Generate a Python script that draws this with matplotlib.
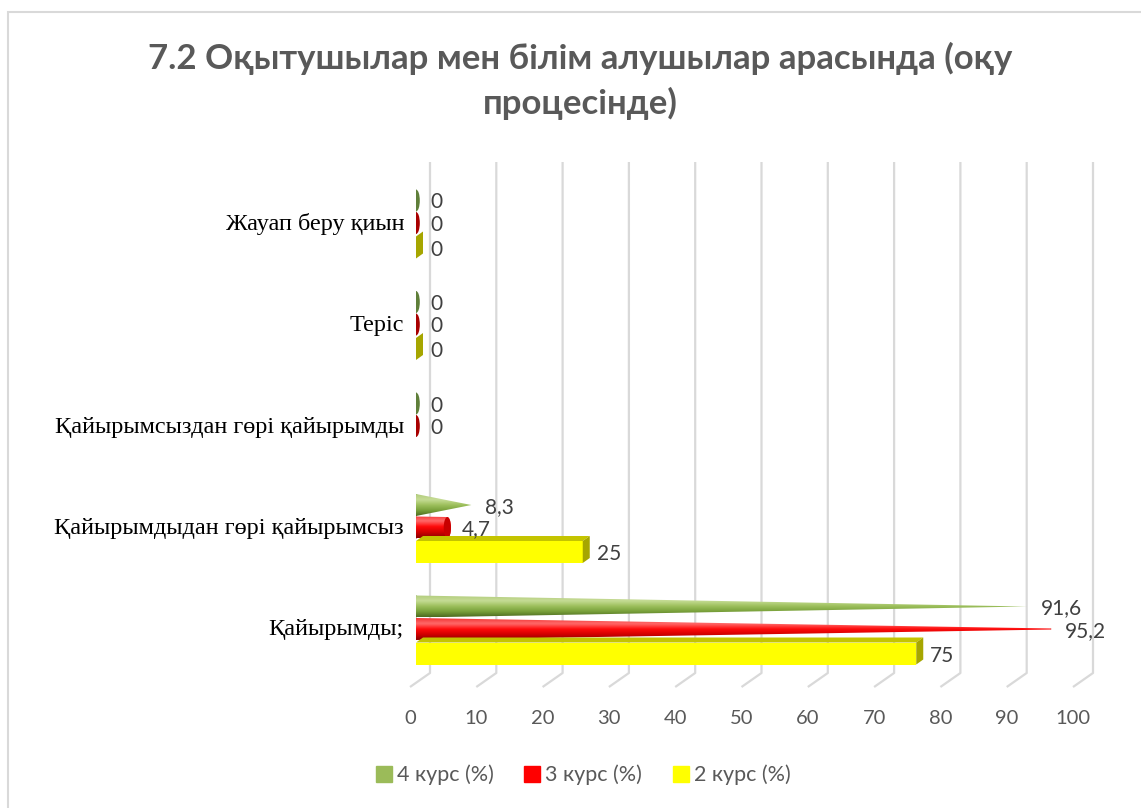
import numpy as np
import matplotlib
matplotlib.use('Agg')
import matplotlib.pyplot as plt
from matplotlib.patches import Polygon, Ellipse, Rectangle
from matplotlib.lines import Line2D
from matplotlib.colors import LinearSegmentedColormap

# data (bottom category first)
categories = ['Қайырымды;', 'Қайырымдыдан гөрі қайырымсыз',
              'Қайырымсыздан гөрі қайырымды', 'Теріс', 'Жауап беру қиын']
kurs4 = [91.6, 8.3, 0, 0, 0]
kurs3 = [95.2, 4.7, 0, 0, 0]
kurs2 = [75, 25, np.nan, 0, 0]
series_names = ['4 курс (%)', '3 курс (%)', '2 курс (%)']
xticks = list(range(0, 101, 10))

W, H = 1141, 808
SANS = ['Lato', 'Open Sans', 'DejaVu Sans']
SERIF = ['Liberation Serif', 'DejaVu Serif']

fig = plt.figure(figsize=(W / 100, H / 100), dpi=100)

# outer chart border (only left and top are inside the picture)
fig.patches.append(Rectangle((8 / W, -0.1), 1.2, 1 - 12 / H + 0.1, transform=fig.transFigure,
                             fill=False, edgecolor='#D9D9D9', linewidth=1.5))

# plot area in pixels: x 416..1083 for 0..100, y 162..690
ax = fig.add_axes([416 / W, 1 - 690 / H, (1083 - 416) / W, (690 - 162) / H])
PX = 101.5  # pixels per category
y_lo, y_hi = (630 - 690) / PX, (630 - 162) / PX
ax.set_xlim(0, 100)
ax.set_ylim(y_lo, y_hi)
ax.axis('off')

ux = 100 / 667.0  # data units per pixel, x
uy = 1 / PX       # data units per pixel, y

# back wall gridlines with floor diagonals
for v in xticks:
    xb = v * 0.994 + 14 * ux
    xf = v * 0.994 - 6 * ux
    yb = (630 - 673) * uy
    yf = (630 - 687) * uy
    ax.plot([xb, xb, xf], [y_hi, yb, yf], color='#D9D9D9', lw=1.6, zorder=0,
            solid_capstyle='butt', clip_on=False)
    ax.text(v * 0.994 - 6 * ux, (630 - 718) * uy, str(v), ha='center', va='center',
            fontsize=14.5, color='#595959', family=SANS)

h = 22 * uy
off = 23.5 * uy
a_base = 3.8 * ux        # half width of base ellipse
dx, dy = 7 * ux, 5 * uy  # box depth


def gradient_patch(patch, colors, x0, x1, y0, y1, z):
    patch.set_facecolor('none')
    patch.set_edgecolor('none')
    patch.set_zorder(z)
    ax.add_patch(patch)
    cmap = LinearSegmentedColormap.from_list('g', colors)
    grad = np.linspace(0, 1, 128).reshape(-1, 1)
    im = ax.imshow(grad, cmap=cmap, extent=(x0, x1, y0, y1), origin='lower',
                   aspect='auto', interpolation='bicubic', zorder=z)
    im.set_clip_path(patch)


def cone(v, yc, colors, base_col, z, full=True, cap_col=None):
    r = h / 2
    ax.add_patch(Ellipse((0, yc), 2 * a_base, h, facecolor=base_col, edgecolor='none', zorder=z))
    if v <= 0:
        return
    t = np.linspace(np.pi / 2, 3 * np.pi / 2, 40)
    pts = [(a_base * np.cos(a), yc + r * np.sin(a)) for a in t]
    if full:
        pts.append((v, yc))
    else:
        re = r * max(1 - v / 100.0, 0.03)
        ae = a_base * re / r
        t2 = np.linspace(-np.pi / 2, np.pi / 2, 40)
        pts += [(v + ae * np.cos(a), yc + re * np.sin(a)) for a in t2]
    gradient_patch(Polygon(pts, closed=True), colors, -a_base, v + a_base, yc - r, yc + r, z + 0.1)
    if not full and cap_col is not None:
        ax.add_patch(Ellipse((v, yc), 2 * ae, 2 * re, facecolor=cap_col, edgecolor='none', zorder=z + 0.2))


def fmt(v):
    return ('%g' % v).replace('.', ',')


green_cols = ['#4C6A20', '#78A03A', '#9DC05C', '#C6DC96', '#B2CC7C']
red_cols = ['#8A0000', '#D00000', '#FF0A0A', '#FF6A6A', '#F23434']

for k in range(len(categories)):
    # 4 курс: cones
    yg = k + off
    cone(kurs4[k], yg, green_cols, '#5F7F3A', 3 + k * 0.01)
    ax.text(kurs4[k] + 2.1, yg - 2 * uy, fmt(kurs4[k]), ha='left', va='center',
            fontsize=15, color='#404040', family=SANS, zorder=10)
    # 3 курс: truncated cones
    yr = k + 1 * uy
    cone(kurs3[k], yr, red_cols, '#A80000', 4 + k * 0.01, full=False, cap_col='#C80000')
    ax.text(kurs3[k] + 2.1, yr - 2 * uy, fmt(kurs3[k]), ha='left', va='center',
            fontsize=15, color='#404040', family=SANS, zorder=10)
    # 2 курс: boxes
    v = kurs2[k]
    if np.isnan(v):
        continue
    yy = k - off
    yt, yb = yy + h / 2, yy - h / 2
    ax.barh(yy, v, height=h, color='#FFFF00', zorder=5)
    ax.add_patch(Polygon([(0, yt), (v, yt), (v + dx, yt + dy), (dx, yt + dy)],
                         facecolor='#C4C400', edgecolor='none', zorder=5))
    ax.add_patch(Polygon([(v, yb), (v, yt), (v + dx, yt + dy), (v + dx, yb + dy)],
                         facecolor='#A6A600', edgecolor='none', zorder=5.1))
    ax.text(v + 2.1, yy - 2 * uy, fmt(v), ha='left', va='center',
            fontsize=15, color='#404040', family=SANS, zorder=10)

# category labels
for k, c in enumerate(categories):
    ax.text(-12 * ux, k, c, ha='right', va='center', fontsize=17.5,
            color='black', family=SERIF)

ax.set_xlim(0, 100)
ax.set_ylim(y_lo, y_hi)

# title
fig.text(580 / W, 1 - 58 / H, '7.2 Оқытушылар мен білім алушылар арасында (оқу',
         ha='center', va='center', fontsize=25, fontweight='bold', color='#595959', family=SANS)
fig.text(580 / W, 1 - 103 / H, 'процесінде)',
         ha='center', va='center', fontsize=25, fontweight='bold', color='#595959', family=SANS)

# legend
handles = [Line2D([], [], marker='s', linestyle='none', markersize=11, color=c)
           for c in ['#9BBB59', '#FF0000', '#FFFF00']]
fig.legend(handles, series_names, loc='center', bbox_to_anchor=(583 / W, 1 - 775 / H),
           ncol=3, frameon=False, handlelength=0.8, handletextpad=0.2, columnspacing=1.4,
           prop={'family': SANS, 'size': 15.5}, labelcolor='#595959')

fig.savefig('out.png', dpi=100)
